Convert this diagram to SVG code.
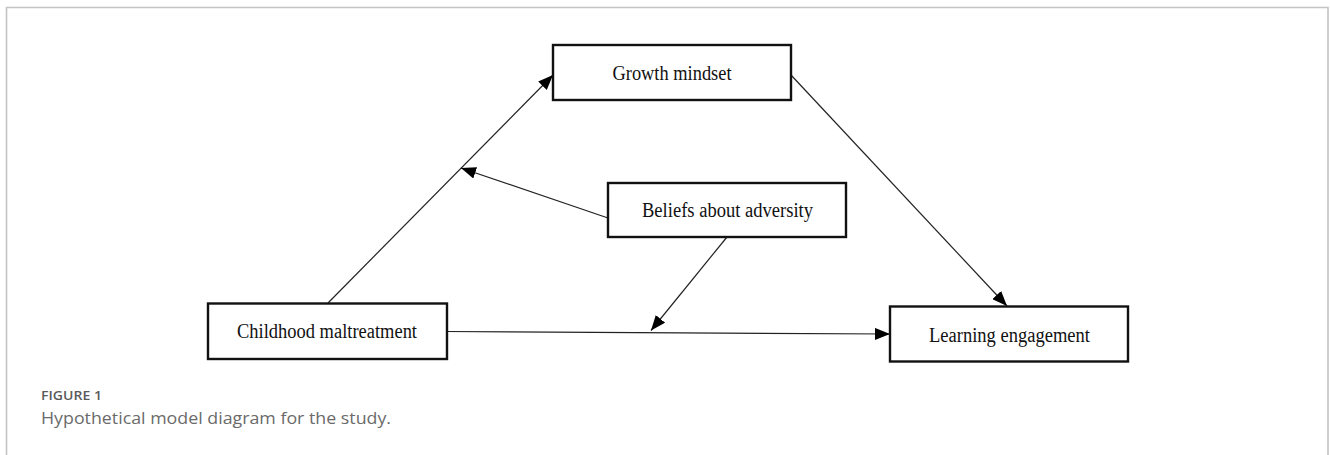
<svg xmlns="http://www.w3.org/2000/svg" width="1330" height="455" viewBox="0 0 1330 455">
<style>
.box{fill:#fff;stroke:#111;stroke-width:2.4}
.lbl{font-family:"Liberation Serif","Times New Roman",serif;font-size:20px;fill:#111;text-anchor:middle}
.conn{stroke:#222;stroke-width:1.2;fill:none}
.frame{stroke:#c4c4c4;stroke-width:1.6;fill:none}
.fig{font-family:"Open Sans","Noto Sans",sans-serif;font-weight:600;font-size:12.5px;fill:#5a5a5a}
.cap{font-family:"Open Sans","Noto Sans",sans-serif;font-size:17px;fill:#6a6a6a}
</style>
<defs>
<marker id="arr" markerUnits="userSpaceOnUse" markerWidth="16" markerHeight="12" refX="15" refY="6" orient="auto">
<path d="M0,0 L15,6 L0,12 Z" fill="#000"/>
</marker>
</defs>
<rect width="1330" height="455" fill="#fff"/>
<path class="frame" d="M6.5,460 V7.5 H1328 V460"/>
<g id="connectors">
<line class="conn" x1="328" y1="303" x2="553" y2="75" marker-end="url(#arr)"/>
<line class="conn" x1="608" y1="218" x2="461" y2="168" marker-end="url(#arr)"/>
<line class="conn" x1="791" y1="75" x2="1007" y2="306" marker-end="url(#arr)"/>
<line class="conn" x1="447" y1="331.5" x2="890" y2="334" marker-end="url(#arr)"/>
<line class="conn" x1="727" y1="237" x2="651" y2="330.5" marker-end="url(#arr)"/>
</g>
<g id="growth">
<rect class="box" x="553" y="45" width="238" height="55"/>
<text class="lbl" x="672" y="80" textLength="119" lengthAdjust="spacingAndGlyphs">Growth mindset</text>
</g>
<g id="beliefs">
<rect class="box" x="608" y="183" width="238" height="54"/>
<text class="lbl" x="727.5" y="217" textLength="171" lengthAdjust="spacingAndGlyphs">Beliefs about adversity</text>
</g>
<g id="childhood">
<rect class="box" x="208" y="303.5" width="239" height="55.5"/>
<text class="lbl" x="327" y="338" textLength="180" lengthAdjust="spacingAndGlyphs">Childhood maltreatment</text>
</g>
<g id="learning">
<rect class="box" x="890" y="306.5" width="238" height="55"/>
<text class="lbl" x="1009.5" y="342" textLength="161" lengthAdjust="spacingAndGlyphs">Learning engagement</text>
</g>
<text class="fig" x="41" y="400" textLength="61" lengthAdjust="spacingAndGlyphs">FIGURE 1</text>
<text class="cap" x="41" y="424" textLength="350" lengthAdjust="spacingAndGlyphs">Hypothetical model diagram for the study.</text>
</svg>
